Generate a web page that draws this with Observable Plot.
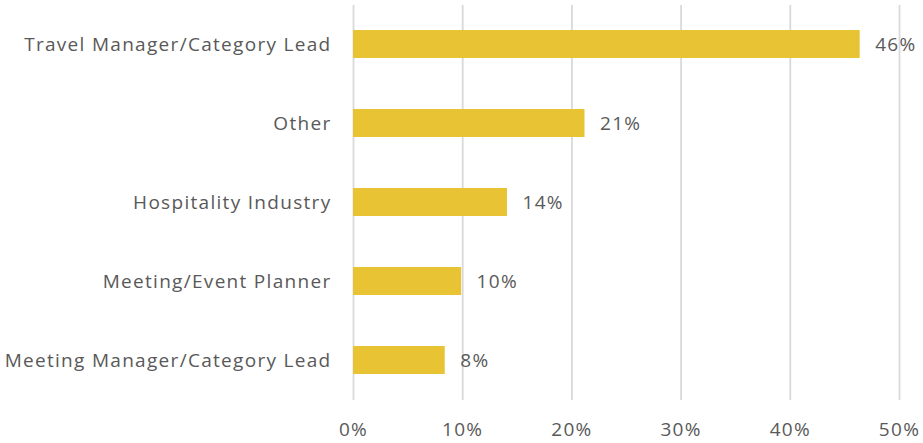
<!DOCTYPE html>
<html>
<head>
<meta charset="utf-8">
<script src="https://cdn.jsdelivr.net/npm/d3@7"></script>
<script src="https://cdn.jsdelivr.net/npm/@observablehq/plot@0.6"></script>
<style>
  html, body { margin: 0; padding: 0; background: #fff; }
  svg { font-family: "Open Sans", "Liberation Sans", Arial, sans-serif; }
  svg text { letter-spacing: 1.3px; }
</style>
</head>
<body>
<div id="chart"></div>
<script>
const categories = [
  "Travel Manager/Category Lead",
  "Other",
  "Hospitality Industry",
  "Meeting/Event Planner",
  "Meeting Manager/Category Lead"
];
const values = [46.4, 21.2, 14.1, 9.9, 8.4];
const labels = ["46%", "21%", "14%", "10%", "8%"];
const xTicks = [0, 10, 20, 30, 40, 50];

const data = categories.map((c, i) => ({ category: c, value: values[i], label: labels[i] }));

const chart = Plot.plot({
  width: 923,
  height: 443,
  marginTop: 5,
  marginBottom: 43,
  marginLeft: 353,
  marginRight: 24,
  style: { fontSize: "19px", color: "#595959", background: "#fff" },
  x: { domain: [0, 50], ticks: xTicks, tickFormat: d => d + "%", label: null },
  y: { domain: categories, paddingInner: 0.645, paddingOuter: 0.3225, label: null },
  marks: [
    Plot.gridX(xTicks, { stroke: "#d9d9d9", strokeOpacity: 1, strokeWidth: 1.8 }),
    Plot.barX(data, { x: "value", y: "category", fill: "#e8c435" }),
    Plot.text(data, { x: "value", y: "category", text: "label", textAnchor: "start", dx: 15, fill: "#595959", fontSize: 19 }),
    Plot.axisX({ ticks: xTicks, tickFormat: d => d + "%", tickSize: 0, tickPadding: 22, fontSize: 19, fill: "#595959", label: null }),
    Plot.axisY({ tickSize: 0, tickPadding: 22, fontSize: 19, fill: "#595959", label: null })
  ]
});
document.getElementById("chart").appendChild(chart);
</script>
</body>
</html>
